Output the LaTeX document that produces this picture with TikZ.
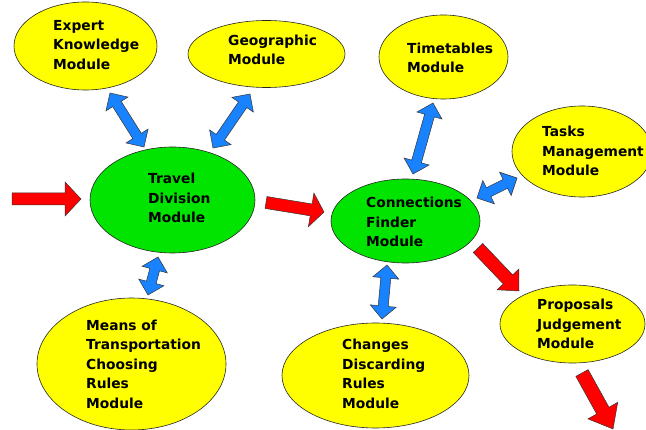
\documentclass[tikz,border=0pt]{standalone}
\usepackage{fontspec}
\setmainfont{DejaVu Sans}
\usetikzlibrary{shapes.geometric,calc}
\definecolor{ylw}{RGB}{255,255,0}
\definecolor{grn}{RGB}{0,228,0}
\definecolor{blu}{RGB}{25,130,255}
\definecolor{rd}{RGB}{255,0,0}
\tikzset{
  module/.style={ellipse, draw=black!85, line width=0.6pt, inner sep=0pt},
  ymod/.style={module, fill=ylw},
  gmod/.style={module, fill=grn},
  modtext/.style={anchor=west, align=left, inner sep=0pt, font=\fontsize{13.8}{19.5}\selectfont\bfseries},
  redarr/.style={fill=rd, draw=black!80, line width=0.5pt},
  bluarr/.style={fill=blu, draw=black!80, line width=0.5pt},
}
% #1 style, #2 from, #3 to, #4 shaft half width, #5 head half width, #6 head length
\newcommand\fatarrow[6]{%
  \coordinate (fa-h) at ($(#3)!#6!(#2)$);
  \path[#1] ($(#2)!#4!90:(#3)$) -- ($(fa-h)!#4!90:(#3)$) -- ($(fa-h)!#5!90:(#3)$) -- (#3)
    -- ($(fa-h)!#5!-90:(#3)$) -- ($(fa-h)!#4!-90:(#3)$) -- ($(#2)!#4!-90:(#3)$) -- cycle;}
\newcommand\fatdouble[6]{%
  \coordinate (fd-a) at ($(#2)!#6!(#3)$);
  \coordinate (fd-b) at ($(#3)!#6!(#2)$);
  \path[#1] (#2) -- ($(fd-a)!#5!90:(#3)$) -- ($(fd-a)!#4!90:(#3)$) -- ($(fd-b)!#4!90:(#3)$)
    -- ($(fd-b)!#5!90:(#3)$) -- (#3) -- ($(fd-b)!#5!-90:(#3)$) -- ($(fd-b)!#4!-90:(#3)$)
    -- ($(fd-a)!#4!-90:(#3)$) -- ($(fd-a)!#5!-90:(#3)$) -- cycle;}
\begin{document}
\begin{tikzpicture}[x=1pt,y=-1pt]
\useasboundingbox (0,0) rectangle (646,430);
\clip (0,0) rectangle (646,430);
\fill[white] (0,0) rectangle (646,430);
% modules
\node[ymod, minimum width=143pt, minimum height=88pt] (exp) at (85.5,46) {};
\node[ymod, minimum width=157pt, minimum height=67pt] (geo) at (266.5,54) {};
\node[ymod, minimum width=129pt, minimum height=84pt] (tim) at (443.5,57) {};
\node[ymod, minimum width=140pt, minimum height=91pt] (tas) at (582,151.5) {};
\node[gmod, minimum width=165pt, minimum height=106pt] (tra) at (172.5,200) {};
\node[gmod, minimum width=149pt, minimum height=84pt] (con) at (405.5,221) {};
\node[ymod, minimum width=189pt, minimum height=132pt] (mea) at (131.5,364) {};
\node[ymod, minimum width=187pt, minimum height=105pt] (cha) at (375.5,375.5) {};
\node[ymod, minimum width=145pt, minimum height=78pt] (pro) at (572.5,324) {};
% texts
\node[modtext] (expT) at (53,45) {Expert\\Knowledge\\Module};
\node[modtext] (geoT) at (228,50) {Geographic\\Module};
\node[modtext] (timT) at (407,58) {Timetables\\Module};
\node[modtext] (tasT) at (542,151) {Tasks\\Management\\Module};
\node[modtext] (traT) at (148,198) {Travel\\Division\\Module};
\node[modtext] (conT) at (366,222) {Connections\\Finder\\Module};
\node[modtext] (meaT) at (86,364) {Means of\\Transportation\\Choosing\\Rules\\Module};
\node[modtext] (chaT) at (342,374) {Changes\\Discarding\\Rules\\Module};
\node[modtext] (proT) at (537,324) {Proposals\\Judgement\\Module};
% connector end points
\coordinate (inS) at (12,199);
\coordinate (inE) at (81,199);
\coordinate (tcS) at (266,202.5);
\coordinate (tcE) at (324,212);
\coordinate (cpS) at (478,248);
\coordinate (cpE) at (519,291);
\coordinate (outS) at (582,373);
\coordinate (outE) at (613,429);
\coordinate (etA) at (110,93);
\coordinate (etB) at (144,147);
\coordinate (gtA) at (250,94);
\coordinate (gtB) at (213,148);
\coordinate (tcA) at (433,103);
\coordinate (tcB) at (413,174);
\coordinate (kcA) at (517,178);
\coordinate (kcB) at (477,198);
\coordinate (tmA) at (158,257);
\coordinate (tmB) at (148,295);
\coordinate (ccA) at (387,265);
\coordinate (ccB) at (382,319);
% red flow arrows
\fatarrow{redarr}{inS}{inE}{6pt}{17pt}{16pt}
\fatarrow{redarr}{tcS}{tcE}{6pt}{17pt}{13pt}
\fatarrow{redarr}{cpS}{cpE}{6.5pt}{15pt}{16pt}
\fatarrow{redarr}{outS}{outE}{7pt}{17pt}{21pt}
% blue double arrows
\fatdouble{bluarr}{etA}{etB}{5pt}{13pt}{13pt}
\fatdouble{bluarr}{gtA}{gtB}{5pt}{13pt}{13pt}
\fatdouble{bluarr}{tcA}{tcB}{5pt}{13pt}{13pt}
\fatdouble{bluarr}{kcA}{kcB}{5pt}{13pt}{13pt}
\fatdouble{bluarr}{tmA}{tmB}{5pt}{13pt}{13pt}
\fatdouble{bluarr}{ccA}{ccB}{5pt}{13pt}{13pt}
\end{tikzpicture}
\end{document}
